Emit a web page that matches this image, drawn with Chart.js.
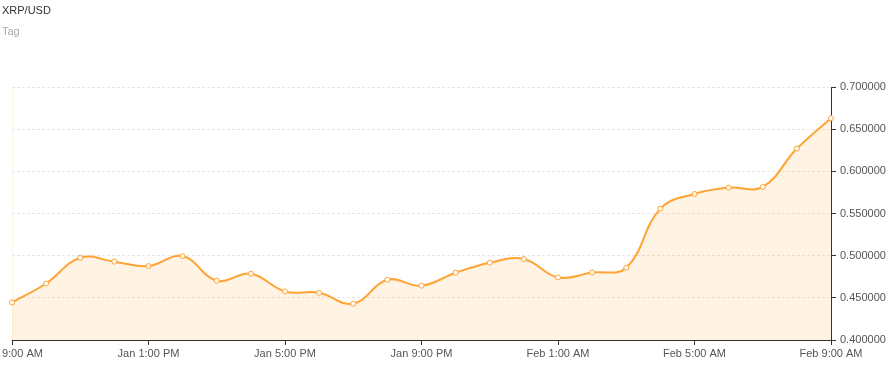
<!DOCTYPE html>
<html>
<head>
<meta charset="utf-8">
<script src="https://cdn.jsdelivr.net/npm/chart.js@4/dist/chart.umd.min.js"></script>
<style>
html,body{margin:0;padding:0;background:#fff;}
#wrap{position:relative;width:896px;height:366px;}
</style>
</head>
<body>
<div id="wrap"><canvas id="c" width="896" height="366"></canvas></div>
<script>
const titleText = "XRP/USD";
const subtitleText = "Tag";
const categories = [
  "Jan 9:00 AM","Jan 10:00 AM","Jan 11:00 AM","Jan 12:00 PM","Jan 1:00 PM","Jan 2:00 PM","Jan 3:00 PM","Jan 4:00 PM",
  "Jan 5:00 PM","Jan 6:00 PM","Jan 7:00 PM","Jan 8:00 PM","Jan 9:00 PM","Jan 10:00 PM","Jan 11:00 PM","Jan 12:00 AM",
  "Feb 1:00 AM","Feb 2:00 AM","Feb 3:00 AM","Feb 4:00 AM","Feb 5:00 AM","Feb 6:00 AM","Feb 7:00 AM","Feb 8:00 AM",
  "Feb 9:00 AM"
];
const prices = [
  0.4445, 0.4670, 0.4976, 0.4929, 0.4877, 0.4995, 0.4703, 0.4786,
  0.4576, 0.4560, 0.4430, 0.4715, 0.4644, 0.4798, 0.4917, 0.4960,
  0.4742, 0.4800, 0.4857, 0.5558, 0.5732, 0.5807, 0.5815, 0.6270,
  0.6630
];
const yMin = 0.4, yMax = 0.7, yStep = 0.05;
const labelEvery = 4;

Chart.defaults.font.family = "'Liberation Sans', Arial, sans-serif";
Chart.defaults.font.size = 11;

new Chart(document.getElementById('c'), {
  type: 'line',
  data: {
    labels: categories,
    datasets: [{
      data: prices,
      borderColor: '#ffa333',
      borderWidth: 2,
      backgroundColor: 'rgba(252,171,64,0.14)',
      fill: 'start',
      tension: 0.4,
      pointRadius: 2.5,
      pointBorderWidth: 1,
      pointBackgroundColor: '#ffffff',
      pointBorderColor: '#ffa333'
    }]
  },
  options: {
    responsive: false,
    animation: false,
    layout: { padding: { left: 2, right: 0, top: 0, bottom: 0 } },
    plugins: {
      legend: { display: false },
      tooltip: { enabled: false },
      title: {
        display: true, text: titleText, align: 'start', color: '#333',
        font: { size: 11, weight: 'normal' }, padding: { top: 4, bottom: 8 }
      },
      subtitle: {
        display: true, text: subtitleText, align: 'start', color: '#aaa',
        font: { size: 11, weight: 'normal' }, padding: { top: 0, bottom: 48.6 }
      }
    },
    scales: {
      x: {
        type: 'category',
        offset: false,
        grid: {
          color: (ctx) => ctx.index === 0 ? '#fdf3e6' : 'rgba(0,0,0,0)',
          drawOnChartArea: true,
          tickColor: '#333',
          tickLength: 5
        },
        border: { color: '#333', width: 1 },
        ticks: {
          autoSkip: false, maxRotation: 0, color: '#555', padding: 2,
          callback: function(v, i) { return i % labelEvery === 0 ? categories[i] : null; }
        },
        afterFit: (s) => { s.paddingLeft = 12; s.paddingRight = 0; s.height = 26; }
      },
      y: {
        position: 'right',
        min: yMin, max: yMax,
        grid: { color: '#e6e6e6', tickColor: '#333', tickLength: 5 },
        border: { color: '#333', width: 1, dash: [3, 2] },
        ticks: {
          stepSize: yStep, color: '#555', padding: 4,
          callback: (v) => Number(v).toFixed(6)
        },
        afterFit: (s) => { s.width = 65; }
      }
    }
  }
});
</script>
</body>
</html>
